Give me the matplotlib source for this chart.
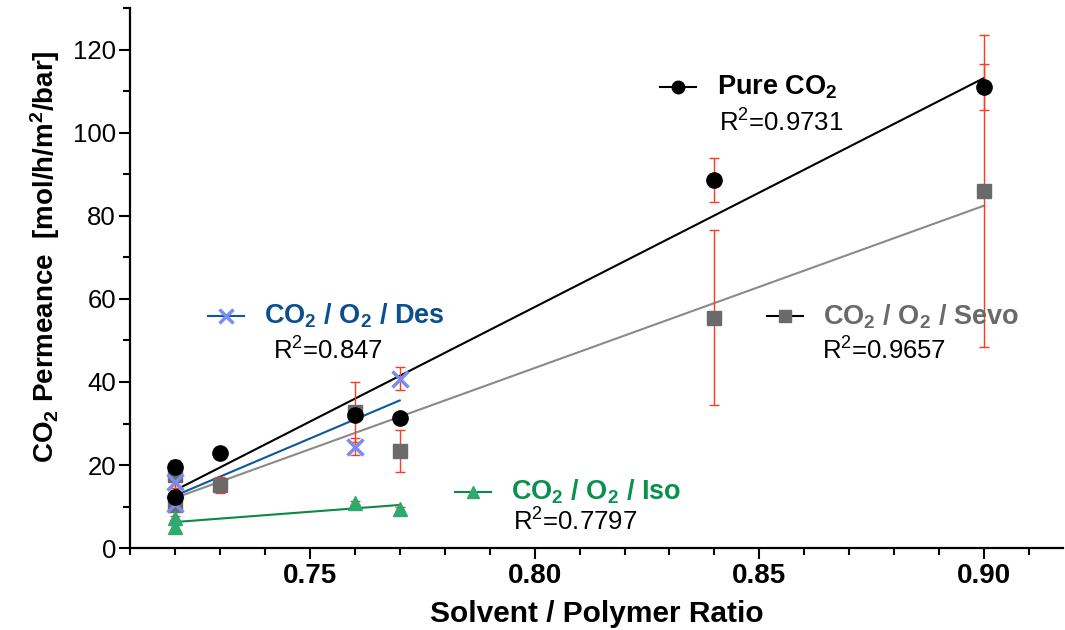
import numpy as np
import matplotlib.pyplot as plt

plt.rcParams['font.family'] = ['Liberation Sans', 'DejaVu Sans']
plt.rcParams['mathtext.fontset'] = 'custom'
plt.rcParams['mathtext.rm'] = 'Liberation Sans'
plt.rcParams['mathtext.bf'] = 'Liberation Sans:bold'

# solvent / polymer ratio for each measurement
ratio_all = [0.72, 0.72, 0.73, 0.76, 0.77, 0.84, 0.90]
ratio_short = [0.72, 0.72, 0.76, 0.77]

pure_co2 = [19.6, 12.3, 22.9, 32.1, 31.4, 88.6, 111.0]
pure_err = [1.4, 1.5, 0.8, 1.0, 1.0, 5.3, 5.5]
sevo = [17.6, 10.4, 15.2, 32.8, 23.4, 55.5, 86.0]
sevo_err = [3.5, 1.5, 2.0, 7.3, 5.0, 21.0, 37.5]
des = [16.0, 10.5, 24.4, 40.8]
des_err = [1.5, 1.5, 2.0, 2.7]
iso = [7.2, 5.1, 10.8, 9.4]
iso_err = [0.5, 0.5, 0.5, 0.5]

err_col = '#ff3a1f'

fig = plt.figure(figsize=(10.65, 6.3), dpi=100)
ax = fig.add_axes([0.122, 0.130, 0.876, 0.857])

def fit_line(x, y, col):
    x = np.array(x)
    k, b = np.polyfit(x, y, 1)
    xs = np.array([x.min(), x.max()])
    ax.plot(xs, k * xs + b, color=col, lw=1.5, zorder=1)

# regression lines
fit_line(ratio_all, pure_co2, 'black')
fit_line(ratio_all, sevo, '#8a8a8a')
fit_line(ratio_short, des, '#0b5a9c')
fit_line(ratio_short, iso, '#0a8a45')

# error bars
for x, y, e in [(ratio_all, pure_co2, pure_err), (ratio_all, sevo, sevo_err),
                (ratio_short, des, des_err), (ratio_short, iso, iso_err)]:
    ax.errorbar(x, y, yerr=e, fmt='none', ecolor=err_col, elinewidth=1,
                capsize=3.5, capthick=1, zorder=2)

# markers
ax.plot(ratio_all, sevo, 's', color='#6a6a6a', ms=10, ls='none', zorder=3)
ax.plot(ratio_short, des, 'x', color='#7b8cf0', ms=11, mew=2.5, ls='none', zorder=3)
ax.plot(ratio_short, iso, '^', color='#2eaa6e', ms=10, ls='none', zorder=3)
ax.plot(ratio_all, pure_co2, 'o', color='black', ms=11, ls='none', zorder=4)

# in-plot labels with legend-style samples
def label(x0, y0, marker, mcol, lcol, ms, mew, text, tcol, r2, xr2, yr2):
    ax.plot([x0 - 0.004, x0 + 0.004], [y0, y0], color=lcol, lw=1.5, clip_on=False)
    ax.plot([x0], [y0], marker, color=mcol, ms=ms, mew=mew, clip_on=False)
    ax.text(x0 + 0.0085, y0, text, color=tcol, fontsize=19.5, fontweight='bold',
            va='center', ha='left')
    ax.text(xr2, yr2, r2, color='black', fontsize=18.5, va='center', ha='left')

label(0.832, 111.0, 'o', 'black', 'black', 9, 1, r'Pure $\mathbf{CO_2}$', 'black',
      r'R$^2$=0.9731', 0.8411, 102.6)
label(0.7313, 56.0, 'x', '#7b8cf0', '#0b5a9c', 10, 2.5,
      r'$\mathbf{CO_2}$ / $\mathbf{O_2}$ / Des', '#0b4f8f',
      r'R$^2$=0.847', 0.7418, 47.8)
label(0.8556, 55.8, 's', '#6a6a6a', 'black', 9, 1,
      r'$\mathbf{CO_2}$ / $\mathbf{O_2}$ / Sevo', '#6a6a6a',
      r'R$^2$=0.9657', 0.864, 47.8)
label(0.7862, 13.5, '^', '#2eaa6e', '#0a8a45', 9, 1,
      r'$\mathbf{CO_2}$ / $\mathbf{O_2}$ / Iso', '#0a9150',
      r'R$^2$=0.7797', 0.7951, 6.5)

ax.set_xlim(0.71, 0.9175)
ax.set_ylim(0, 130)
ax.set_xticks([0.75, 0.80, 0.85, 0.90])
ax.set_xticklabels(['0.75', '0.80', '0.85', '0.90'], fontweight='bold', fontsize=20)
ax.set_xticks(np.arange(0.71, 0.915, 0.01), minor=True)
ax.set_yticks(np.arange(0, 121, 20))
ax.set_yticks(np.arange(10, 131, 20), minor=True)
ax.tick_params(axis='y', which='major', labelsize=18.5, length=8, width=1.5, pad=2)
ax.tick_params(axis='x', which='major', length=8, width=1.5, pad=3)
ax.tick_params(axis='both', which='minor', length=5, width=1.5)
for s in ['top', 'right']:
    ax.spines[s].set_visible(False)
for s in ['left', 'bottom']:
    ax.spines[s].set_linewidth(1.6)

ax.set_xlabel('Solvent / Polymer Ratio', fontsize=21.5, fontweight='bold', labelpad=8)
ax.set_ylabel(r'$\mathbf{CO_2}$ Permeance  [mol/h/m$\mathbf{^2}$/bar]', fontsize=20,
              fontweight='bold', labelpad=8)
ax.yaxis.set_label_coords(-0.073, 0.539)

fig.savefig('out.png', dpi=100)
